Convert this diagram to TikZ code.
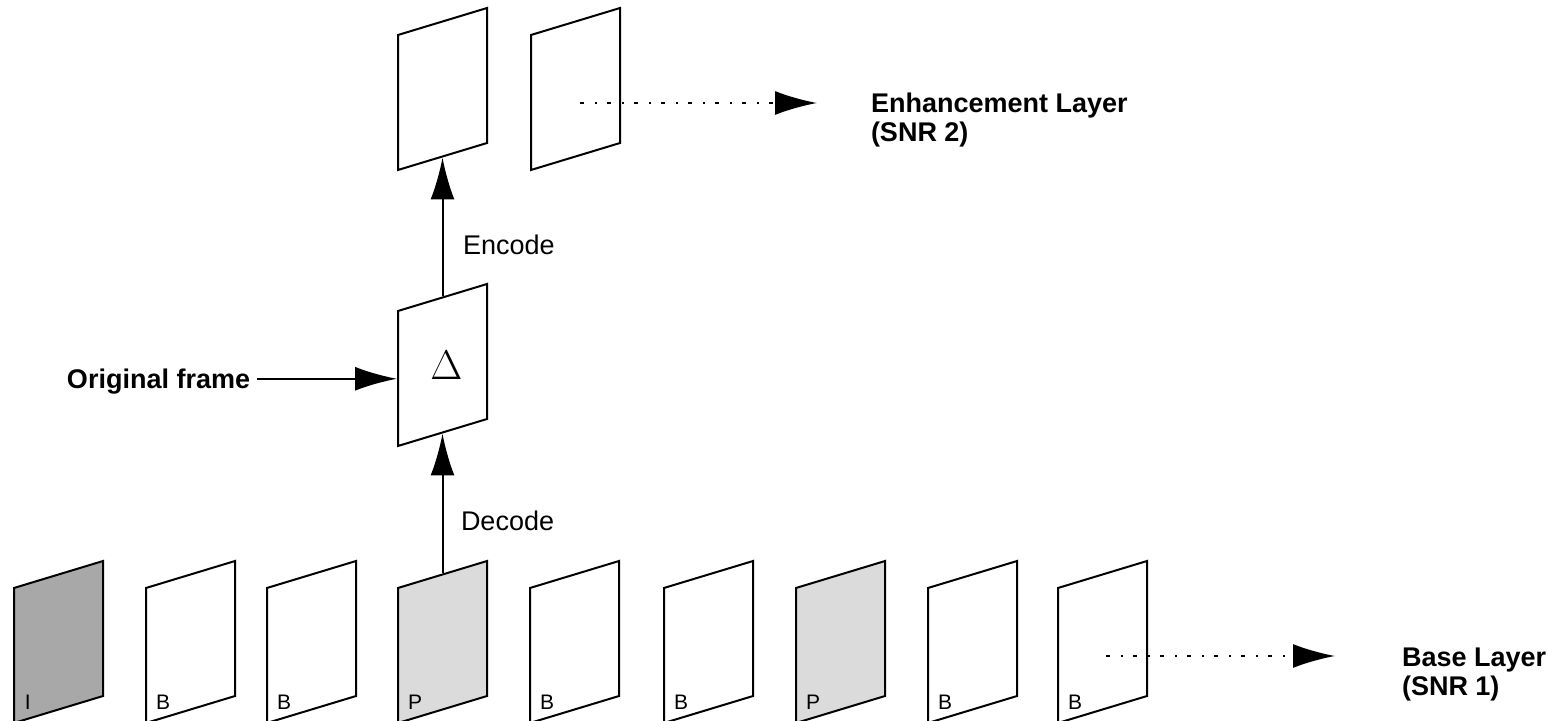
\documentclass[tikz,border=0pt]{standalone}
\usepackage{fontspec}
\setmainfont{Liberation Sans}
\usetikzlibrary{arrows.meta}

\definecolor{iframe}{gray}{0.66}
\definecolor{pframe}{gray}{0.86}

\tikzset{
  vframe/.style={draw,line width=1pt,minimum width=44.5pt,minimum height=67.5pt,inner sep=0pt,yslant=0.303},
  flbl/.style={font=\fontsize{10.5}{12}\selectfont,inner sep=0pt},
  txt/.style={font=\fontsize{13.5}{14.5}\selectfont,inner sep=0pt},
  bigtxt/.style={font=\fontsize{13.5}{14.5}\selectfont\bfseries,inner sep=0pt},
  dotline/.style={line width=1pt,dash pattern=on 2pt off 5.5pt on 1pt off 5pt}
}

\begin{document}
\begin{tikzpicture}[x=0.5pt,y=-0.5pt,line width=1pt,>={Latex[length=21pt,width=12pt]}]

\useasboundingbox (0,0) rectangle (1560,721);

% === Enhancement layer frames ===
\node[vframe] (ta) at (442.5,89) {};
\node[vframe] (tb) at (575.5,89) {};

% === Difference frame ===
\node[vframe] (delta) at (442.5,365) {};
\node[font=\fontsize{20}{22}\selectfont,inner sep=0pt] (dsym) at ([xshift=2]delta.center) {$\Delta$};

% === Base layer frames ===
\node[vframe,fill=iframe] (fa) at (58.5,642) {};
\node[vframe] (fb) at (190.5,642) {};
\node[vframe] (fc) at (311.5,642) {};
\node[vframe,fill=pframe] (fd) at (442.5,642) {};
\node[vframe] (fe) at (574.5,642) {};
\node[vframe] (ff) at (708.5,642) {};
\node[vframe,fill=pframe] (fg) at (840.5,642) {};
\node[vframe] (fh) at (972.5,642) {};
\node[vframe] (fi) at (1102.5,642) {};

% frame types
\node[flbl,anchor=base west] (la) at ([shift={(11,-15)}]fa.south west) {I};
\node[flbl,anchor=base west] (lb) at ([shift={(10,-15)}]fb.south west) {B};
\node[flbl,anchor=base west] (lc) at ([shift={(10,-15)}]fc.south west) {B};
\node[flbl,anchor=base west] (ld) at ([shift={(10,-15)}]fd.south west) {P};
\node[flbl,anchor=base west] (le) at ([shift={(10,-15)}]fe.south west) {B};
\node[flbl,anchor=base west] (lf) at ([shift={(10,-15)}]ff.south west) {B};
\node[flbl,anchor=base west] (lg) at ([shift={(10,-15)}]fg.south west) {P};
\node[flbl,anchor=base west] (lh) at ([shift={(10,-15)}]fh.south west) {B};
\node[flbl,anchor=base west] (li) at ([shift={(10,-15)}]fi.south west) {B};

% === Encode / decode ===
\draw[->] (fd.north) -- (delta.south);
\draw[->] (delta.north) -- (ta.south);
\node[txt,anchor=base west] (declbl) at (460,531) {Decode};
\node[txt,anchor=base west] (enclbl) at (462,255) {Encode};

% === Original frame input ===
\node[bigtxt,anchor=base west,inner sep=3pt] (orig) at (60,389) {Original frame};
\draw[->] (orig.east |- delta.west) -- (delta.west);

% === Layer outputs ===
\coordinate (enhstart) at (580,103);
\coordinate (enhend) at (817,103);
\draw[->,dotline] (enhstart) -- (enhend);
\node[bigtxt,anchor=base west,align=left] (enh) at (870,142) {Enhancement Layer\\(SNR 2)};

\coordinate (basestart) at (1106,656);
\coordinate (baseend) at (1335,656);
\draw[->,dotline] (basestart) -- (baseend);
\node[bigtxt,anchor=base west,align=left] (base) at (1401,696) {Base Layer\\(SNR 1)};

\end{tikzpicture}
\end{document}
